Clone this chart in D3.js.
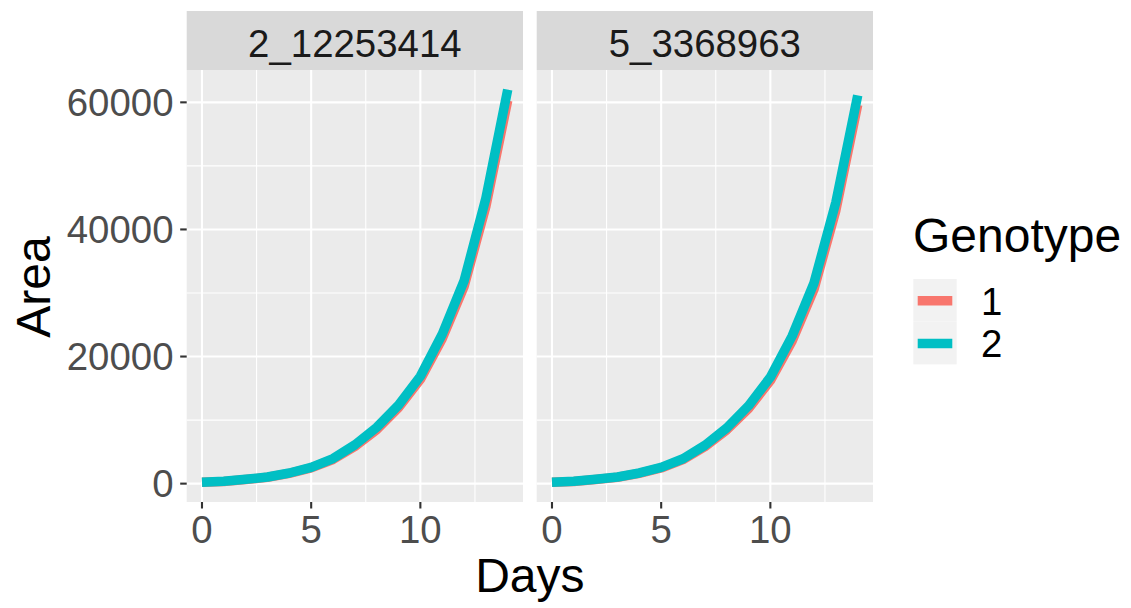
<!DOCTYPE html>
<html>
<head>
<meta charset="utf-8">
<script src="https://cdn.jsdelivr.net/npm/d3@7"></script>
<style>
  html, body { margin: 0; padding: 0; background: #ffffff; }
  svg { display: block; }
  text { font-family: "Liberation Sans", Arial, sans-serif; }
</style>
</head>
<body>
<svg id="chart" width="1131" height="608"></svg>
<script>
// Growth curves of plant area per genotype, one panel per marker
const days = [0, 1, 2, 3, 4, 5, 6, 7, 8, 9, 10, 11, 12, 13, 14];
const markers = ["2_12253414", "5_3368963"];
const genotypes = ["1", "2"];
const genotypeColors = ["#F8766D", "#00BFC4"];

const area_2_12253414_g1 = [200, 340, 650, 1000, 1610, 2480, 3800, 5850, 8500, 11950, 16400, 22800, 31000, 43600, 60300];
const area_2_12253414_g2 = [210, 360, 680, 1040, 1670, 2570, 3940, 6100, 8850, 12350, 16900, 23500, 31900, 44900, 62000];
const area_5_3368963_g1 = [210, 350, 660, 1010, 1620, 2470, 3780, 5800, 8450, 11800, 16200, 22450, 30600, 43000, 59600];
const area_5_3368963_g2 = [220, 370, 690, 1050, 1680, 2560, 3910, 6020, 8750, 12250, 16750, 23250, 31600, 44300, 61100];

const xMajor = [0, 5, 10];
const xMinor = [2.5, 7.5, 12.5];
const yMajor = [0, 20000, 40000, 60000];
const yMinor = [10000, 30000, 50000];

const panelSeries = {
  "2_12253414": [area_2_12253414_g1, area_2_12253414_g2],
  "5_3368963": [area_5_3368963_g1, area_5_3368963_g2]
};

const svg = d3.select("#chart");

// panel geometry
const panelTop = 70, panelBottom = 502;
const stripTop = 11;
const panelLefts = [186.7, 536.7];
const panelW = 336.3;

// shared scales with ggplot-style 5% expansion
const xExt = d3.extent(days);
const xPad = (xExt[1] - xExt[0]) * 0.05;
const allY = [].concat(area_2_12253414_g1, area_2_12253414_g2, area_5_3368963_g1, area_5_3368963_g2);
const yExt = d3.extent(allY);
const yPad = (yExt[1] - yExt[0]) * 0.05;
const y = d3.scaleLinear().domain([yExt[0] - yPad, yExt[1] + yPad]).range([panelBottom, panelTop]);

markers.forEach((m, i) => {
  const x0 = panelLefts[i];
  const x = d3.scaleLinear().domain([xExt[0] - xPad, xExt[1] + xPad]).range([x0, x0 + panelW]);
  const g = svg.append("g");

  // strip
  g.append("rect").attr("x", x0).attr("y", stripTop).attr("width", panelW)
    .attr("height", panelTop - stripTop).attr("fill", "#D9D9D9");
  g.append("text").attr("x", x0 + panelW / 2).attr("y", 56.5)
    .attr("text-anchor", "middle").attr("font-size", 38.4).attr("fill", "#1A1A1A").text(m);

  // panel background
  g.append("rect").attr("x", x0).attr("y", panelTop).attr("width", panelW)
    .attr("height", panelBottom - panelTop).attr("fill", "#EBEBEB");

  // minor grid
  g.selectAll(null).data(yMinor).enter().append("line")
    .attr("x1", x0).attr("x2", x0 + panelW).attr("y1", d => y(d)).attr("y2", d => y(d))
    .attr("stroke", "#ffffff").attr("stroke-width", 1.1);
  g.selectAll(null).data(xMinor).enter().append("line")
    .attr("y1", panelTop).attr("y2", panelBottom).attr("x1", d => x(d)).attr("x2", d => x(d))
    .attr("stroke", "#ffffff").attr("stroke-width", 1.1);
  // major grid
  g.selectAll(null).data(yMajor).enter().append("line")
    .attr("x1", x0).attr("x2", x0 + panelW).attr("y1", d => y(d)).attr("y2", d => y(d))
    .attr("stroke", "#ffffff").attr("stroke-width", 2.1);
  g.selectAll(null).data(xMajor).enter().append("line")
    .attr("y1", panelTop).attr("y2", panelBottom).attr("x1", d => x(d)).attr("x2", d => x(d))
    .attr("stroke", "#ffffff").attr("stroke-width", 2.1);

  // clipped lines
  const clipId = "clip" + i;
  svg.append("clipPath").attr("id", clipId).append("rect")
    .attr("x", x0).attr("y", panelTop).attr("width", panelW).attr("height", panelBottom - panelTop);
  const line = d3.line().x((d, k) => x(days[k])).y(d => y(d));
  const lg = g.append("g").attr("clip-path", `url(#${clipId})`);
  panelSeries[m].forEach((vals, s) => {
    lg.append("path").attr("d", line(vals)).attr("fill", "none")
      .attr("stroke", genotypeColors[s]).attr("stroke-width", 9.5)
      .attr("stroke-linejoin", "round").attr("stroke-linecap", "butt");
  });

  // x axis ticks and labels
  const xa = g.append("g");
  xMajor.forEach(v => {
    xa.append("line").attr("x1", x(v)).attr("x2", x(v)).attr("y1", panelBottom).attr("y2", panelBottom + 6.5)
      .attr("stroke", "#333333").attr("stroke-width", 2.1);
    xa.append("text").attr("x", x(v)).attr("y", 542.5).attr("text-anchor", "middle")
      .attr("font-size", 38.4).attr("fill", "#4D4D4D").text(v);
  });
});

// y axis ticks and labels (left panel only)
const ya = svg.append("g");
yMajor.forEach(v => {
  ya.append("line").attr("x1", panelLefts[0] - 6.5).attr("x2", panelLefts[0]).attr("y1", y(v)).attr("y2", y(v))
    .attr("stroke", "#333333").attr("stroke-width", 2.1);
  ya.append("text").attr("x", 173.5).attr("y", y(v) + 13.7).attr("text-anchor", "end")
    .attr("font-size", 38.4).attr("fill", "#4D4D4D").text(v);
});

// axis titles
svg.append("text").attr("x", (panelLefts[0] + panelLefts[1] + panelW) / 2).attr("y", 592)
  .attr("text-anchor", "middle").attr("font-size", 48).attr("fill", "#000000").text("Days");
svg.append("text").attr("transform", "translate(50,287) rotate(-90)")
  .attr("text-anchor", "middle").attr("font-size", 48).attr("fill", "#000000").text("Area");

// legend
const leg = svg.append("g");
leg.append("text").attr("x", 913).attr("y", 251.7).attr("font-size", 48).attr("fill", "#000000").text("Genotype");
genotypes.forEach((gt, k) => {
  const ky = 279 + k * 42.7;
  leg.append("rect").attr("x", 913.3).attr("y", ky).attr("width", 43.4).attr("height", 42.7).attr("fill", "#F2F2F2");
  leg.append("line").attr("x1", 917.7).attr("x2", 952.3).attr("y1", ky + 21.8).attr("y2", ky + 21.8)
    .attr("stroke", genotypeColors[k]).attr("stroke-width", 9.5);
  leg.append("text").attr("x", 981).attr("y", ky + 35.5).attr("font-size", 38.4).attr("fill", "#000000").text(gt);
});
</script>
</body>
</html>
